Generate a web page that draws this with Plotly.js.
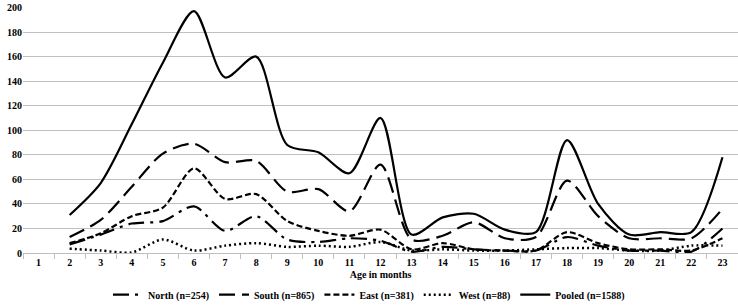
<!DOCTYPE html>
<html>
<head>
<meta charset="utf-8">
<script src="https://cdn.plot.ly/plotly-3.0.1.min.js"></script>
<style>html,body{margin:0;padding:0;background:#fff;}#chart{width:738px;height:307px;}</style>
</head>
<body>
<div id="chart"></div>
<script>
const ages = ["1","2","3","4","5","6","7","8","9","10","11","12","13","14","15","16","17","18","19","20","21","22","23"];
const north  = [null, 7, 15, 24, 26, 38, 18, 30, 11, 9, 12, 10, 1, 5, 3, 2, 2, 13, 6, 2, 2, 1, 20];
const south  = [null, 13, 27, 54, 81, 89, 74, 75, 50, 52, 34, 72, 11, 14, 25, 12, 13, 59, 30, 12, 12, 12, 36];
const east   = [null, 8, 16, 30, 37, 69, 44, 48, 26, 18, 14, 19, 3, 8, 3, 2, 2, 17, 8, 3, 3, 2, 12];
const west   = [null, 3.5, 2, 0.5, 11, 2, 6, 8, 5, 6, 5, 9, 2, 3, 2, 2, 3, 4, 4, 2, 2, 6, 6];
const pooled = [null, 31, 57, 105, 155, 197, 143, 160, 88, 82, 65, 110, 15, 29, 32, 19, 17, 92, 40, 15, 17, 17, 78];
const names = ["North (n=254)", "South (n=865)", "East (n=381)", "West (n=88)", "Pooled (n=1588)"];

const series = [north, south, east, west, pooled];
const dashes = ["16px,6px,3px,6px", "16px,7px", "6px,3px", "2px,3px", "solid"];
const widths = [2.2, 2.2, 2.2, 2.5, 2.2];

const traces = series.map((s, i) => ({
  x: ages, y: s, name: names[i], type: "scatter", mode: "lines",
  connectgaps: false, cliponaxis: false,
  line: {color: "#000", width: widths[i], dash: dashes[i], shape: "spline", smoothing: 0.8}
}));

const fam = "Liberation Serif, Times New Roman, serif";
const layout = {
  width: 738, height: 307,
  margin: {l: 23, r: 0, t: 7, b: 54, autoexpand: false},
  paper_bgcolor: "#fff", plot_bgcolor: "#fff",
  font: {family: fam, size: 11, color: "#000"},
  showlegend: true,
  legend: {orientation: "h", x: 0.5, xanchor: "center", xref: "container",
           y: 0.04, yanchor: "middle", yref: "container",
           font: {family: fam, size: 10, color: "#000", weight: "bold"}, itemwidth: 30, tracegroupgap: 0},
  xaxis: {type: "category", categoryorder: "array", categoryarray: ages, range: [-0.5, 22.5],
          automargin: false,
          showgrid: false, showline: true, linecolor: "#bfbfbf", linewidth: 1,
          ticks: "outside", tickson: "boundaries", ticklen: 5, tickcolor: "#bfbfbf",
          tickfont: {family: fam, size: 10, color: "#000", weight: "bold"},
          title: {text: "Age in months", standoff: 7, font: {family: fam, size: 10, color: "#000", weight: "bold"}},
          fixedrange: true},
  yaxis: {range: [0, 200.4], tickmode: "linear", tick0: 0, dtick: 20, showgrid: true, gridcolor: "#c0c0c0", gridwidth: 1,
          automargin: false, ticklabeloverflow: "allow",
          zeroline: false, showline: false, ticks: "",
          tickfont: {family: fam, size: 10, color: "#000", weight: "bold"},
          fixedrange: true}
};

Plotly.newPlot("chart", traces, layout, {displayModeBar: false, staticPlot: true});
</script>
</body>
</html>
